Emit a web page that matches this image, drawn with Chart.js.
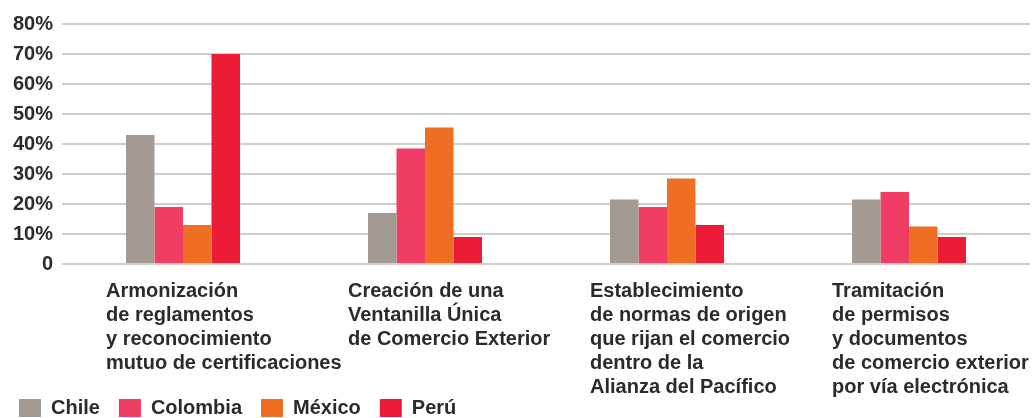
<!DOCTYPE html>
<html lang="es">
<head>
  <meta charset="UTF-8">
  <title>Prioridades Alianza del Pacífico</title>
  <script src="https://cdn.jsdelivr.net/npm/chart.js"></script>
  <style>
    html, body {
      margin: 0;
      padding: 0;
      background: #ffffff;
    }

    #chart-container {
      width: 1036px;
      height: 418px;
    }
  </style>
</head>
<body>

<div id="chart-container">
  <canvas id="chart" width="1036" height="418"></canvas>
</div>

<script>
  // Categories (multi-line labels, as in the original)
  const categories = [
    ['Armonización', 'de reglamentos', 'y reconocimiento', 'mutuo de certificaciones'],
    ['Creación de una', 'Ventanilla Única', 'de Comercio Exterior'],
    ['Establecimiento', 'de normas de origen', 'que rijan el comercio', 'dentro de la', 'Alianza del Pacífico'],
    ['Tramitación', 'de permisos', 'y documentos', 'de comercio exterior', 'por vía electrónica']
  ];

  // Values in %
  const chile = [43, 17, 21.5, 21.5];
  const colombia = [19, 38.5, 19, 24];
  const mexico = [13, 45.5, 28.5, 12.5];
  const peru = [70, 9, 13, 9];

  const yTicks = [0, 10, 20, 30, 40, 50, 60, 70, 80];

  const textColor = '#2b2b2b';
  const font = { family: '"Liberation Sans", Arial, sans-serif', size: 20, weight: 'bold', lineHeight: 1.2 };

  // the category labels run down behind the legend, so let them draw past the axis box
  const unclipLabels = {
    id: 'unclipLabels',
    afterLayout(chart) {
      chart.scales.x.bottom = chart.height;
    }
  };

  const ctx = document.getElementById('chart').getContext('2d');
  const chart = new Chart(ctx, {
    type: 'bar',
    data: {
      labels: categories,
      datasets: [
        { label: 'Chile', data: chile, backgroundColor: '#a39a93' },
        { label: 'Colombia', data: colombia, backgroundColor: '#ef3d63' },
        { label: 'México', data: mexico, backgroundColor: '#f06e23' },
        { label: 'Perú', data: peru, backgroundColor: '#ec1b37' }
      ]
    },
    plugins: [unclipLabels],
    options: {
      responsive: false,
      maintainAspectRatio: false,
      animation: false,
      datasets: {
        bar: {
          categoryPercentage: 0.471,
          barPercentage: 1,
          borderWidth: 0
        }
      },
      layout: {
        padding: { left: 0, right: 6, top: 24, bottom: 0 }
      },
      scales: {
        x: {
          grid: { display: false },
          border: { display: false },
          ticks: {
            color: textColor,
            font: font,
            align: 'start',
            labelOffset: -77,
            padding: 7,
            autoSkip: false,
            maxRotation: 0,
            minRotation: 0
          },
          afterFit: (scale) => {
            scale.paddingLeft = 0;
            scale.paddingRight = 0;
            scale.height = 115;
          }
        },
        y: {
          min: 0,
          max: 80,
          afterBuildTicks: (scale) => {
            scale.ticks = yTicks.map(v => ({ value: v }));
          },
          grid: {
            color: '#d3cdc7',
            lineWidth: 2,
            drawTicks: false
          },
          border: { display: false },
          ticks: {
            color: textColor,
            font: font,
            padding: 9,
            callback: (v) => v === 0 ? '0' : v + '%'
          },
          afterFit: (scale) => {
            scale.width = 62;
          }
        }
      },
      plugins: {
        tooltip: { enabled: false },
        legend: {
          position: 'bottom',
          align: 'start',
          maxHeight: 39,
          labels: {
            color: textColor,
            font: font,
            boxWidth: 22,
            boxHeight: 18,
            padding: 19
          }
        }
      }
    }
  });
</script>

</body>
</html>
